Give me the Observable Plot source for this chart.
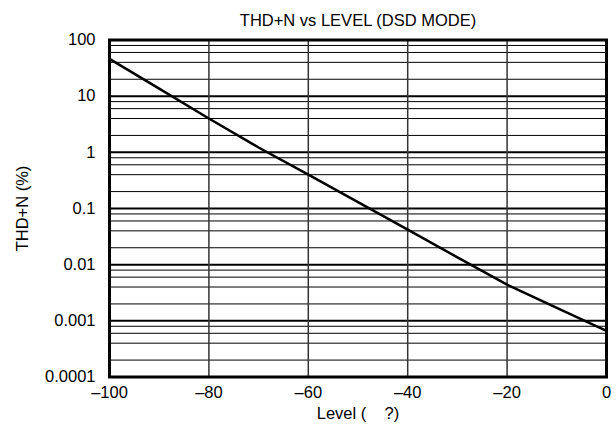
<!DOCTYPE html>
<html>
<head>
<meta charset="utf-8">
<script src="https://cdn.jsdelivr.net/npm/d3@7"></script>
<script src="https://cdn.jsdelivr.net/npm/@observablehq/plot@0.6"></script>
<style>
  html, body { margin: 0; padding: 0; background: #fff; }
  #chart svg { display: block; }
</style>
</head>
<body>
<div id="chart"></div>
<script>
const title = "THD+N vs LEVEL (DSD MODE)";
const xLabel = "Level (    ?)";
const yLabel = "THD+N (%)";

// Series: level (dB) and THD+N (%)
const levels = [-100, -90, -80, -70, -60, -50, -40, -30, -20, -10, 0];
const thdn   = [46, 13.6, 4.0, 1.22, 0.40, 0.13, 0.042, 0.0135, 0.0044, 0.0017, 0.00066];

// Axis ticks
const xTicks = [-100, -80, -60, -40, -20, 0];
const xTickLabels = ["\u2013100", "\u201380", "\u201360", "\u201340", "\u201320", "0"];
const yTicks = [0.0001, 0.001, 0.01, 0.1, 1, 10, 100];
const yTickLabels = ["0.0001", "0.001", "0.01", "0.1", "1", "10", "100"];
const xGrid = [-80, -60, -40, -20];
const minorMultipliers = [2, 4, 6, 8];

const data = levels.map((l, i) => ({level: l, thdn: thdn[i]}));
const minorGrid = [];
for (const d of yTicks.slice(0, -1)) for (const m of minorMultipliers) minorGrid.push(d * m);
const majorGrid = yTicks.slice(1, -1);

const font = "'Liberation Sans', Arial, Helvetica, sans-serif";

const chart = Plot.plot({
  width: 616,
  height: 445,
  marginLeft: 109,
  marginRight: 10,
  marginTop: 39.5,
  marginBottom: 68.5,
  style: {fontFamily: font, fontSize: "16.5px", color: "#000", background: "#fff"},
  x: {domain: [-100, 0]},
  y: {type: "log", domain: [0.0001, 100]},
  marks: [
    Plot.ruleY(minorGrid, {stroke: "#000", strokeWidth: 1}),
    Plot.ruleY(majorGrid, {stroke: "#000", strokeWidth: 2}),
    Plot.ruleX(xGrid, {stroke: "#333", strokeWidth: 1.5}),
    Plot.line(data, {x: "level", y: "thdn", stroke: "#000", strokeWidth: 2.5}),
    Plot.frame({stroke: "#000", strokeWidth: 3}),
    Plot.axisX({
      ticks: xTicks,
      tickSize: 0,
      tickPadding: 9,
      tickFormat: (d) => xTickLabels[xTicks.indexOf(d)],
      fontSize: 16.5,
      label: xLabel,
      labelAnchor: "center",
      labelArrow: "none",
      labelOffset: 42
    }),
    Plot.axisY({
      ticks: yTicks,
      tickSize: 0,
      tickPadding: 14,
      tickFormat: (d) => yTickLabels[yTicks.indexOf(d)],
      fontSize: 16.5,
      label: yLabel,
      labelAnchor: "center",
      labelArrow: "none",
      labelOffset: 93
    }),
    Plot.text([title], {frameAnchor: "top", dy: -26, fontSize: 16.5, fill: "#000"})
  ]
});
document.getElementById("chart").appendChild(chart);
</script>
</body>
</html>
